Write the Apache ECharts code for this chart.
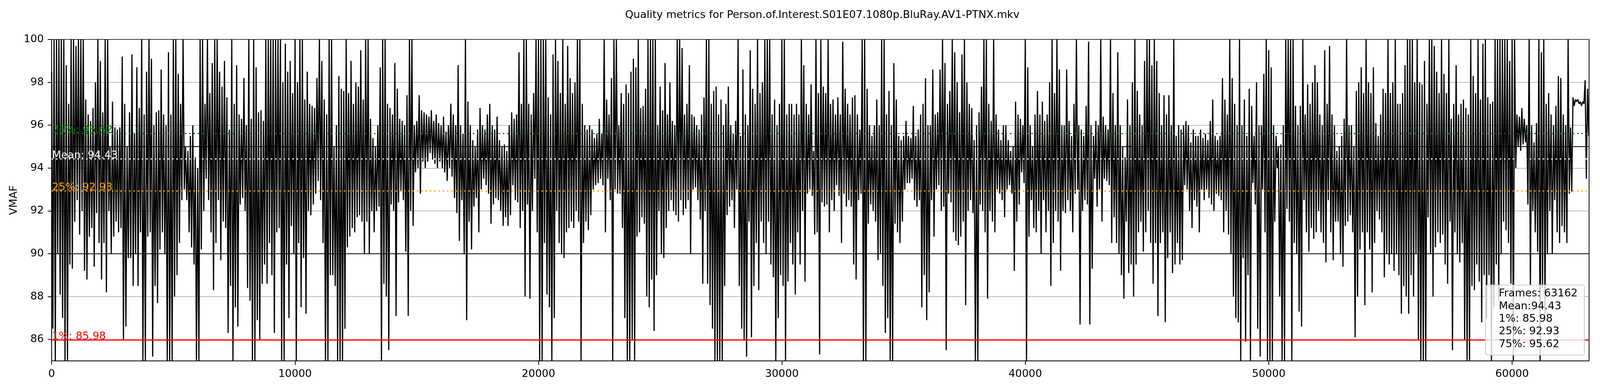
<!DOCTYPE html>
<html>
<head>
<meta charset="utf-8">
<script src="https://cdn.jsdelivr.net/npm/echarts@6/dist/echarts.min.js"></script>
<style>
html,body{margin:0;padding:0;background:#fff;overflow:hidden;}
#chart{width:100vw;height:100vh;}
</style>
</head>
<body>
<div id="chart"></div>
<script>
// ---- chart data ----
const chartTitle = 'Quality metrics for Person.of.Interest.S01E07.1080p.BluRay.AV1-PTNX.mkv';
const frameCount = 63162;
const frameStep = 100;            // each pair = local peak then local trough in a 100-frame window
const xTicks = [0, 10000, 20000, 30000, 40000, 50000, 60000];
const yTicks = [86, 88, 90, 92, 94, 96, 98, 100];
const refLines = [90, 95];
const statNames = ['1%', '25%', 'Mean', '75%'];
const statValues = [85.98, 92.93, 94.43, 95.62];

// peaks (hi) and troughs (lo), frames 0-9999
const hi0 = [98.5,100,100,100,100,100,98.8,97.0,100,100,
 99.7,100,100,100,97.2,96.5,96.2,96.8,98.0,100,
 99.0,96.6,100,100,95.0,97.1,95.9,95.8,95.9,99.2,
 97.0,95.0,96.6,99.3,95.6,98.7,96.8,100,96.5,98.5,
 100,99.1,96.0,96.6,96.7,98.6,96.5,96.0,99.4,96.5,
 100,100,98.4,97.0,100,95.0,94.8,95.5,96.0,94.5,
 94.0,100,100,97.0,100,97.5,98.9,100,100,98.5,
 97.8,99.0,97.3,95.8,100,97.0,98.8,96.5,96.3,98.2,
 96.0,100,96.3,100,98.7,96.6,96.7,96.2,100,100,
 100,100,100,100,100,98.0,99.8,98.5,99.0,97.5];
const lo0 = [86.5,85.0,90.0,88.1,87.0,85.0,85.0,89.5,89.3,91.5,
 92.5,90.9,92.0,89.2,88.8,90.8,91.2,89.4,91.9,90.5,
 88.8,90.5,88.2,92.0,90.0,90.8,91.5,91.0,91.2,86.0,
 86.6,89.8,89.8,88.5,90.0,88.5,91.0,85.0,85.0,90.8,
 91.0,85.2,88.5,87.7,90.2,91.0,90.0,85.0,85.0,85.0,
 88.0,89.0,90.5,92.5,93.0,92.5,91.0,90.3,89.5,85.0,
 85.0,90.2,92.0,93.5,92.5,91.0,88.3,90.5,92.5,89.7,
 91.5,91.2,86.3,88.5,85.0,87.5,86.6,92.3,92.6,92.0,
 88.4,87.8,85.0,85.0,86.9,86.0,88.6,89.5,88.6,90.5,
 89.0,86.3,91.0,91.2,85.0,85.0,89.5,87.0,91.3,90.0];
// frames 10000-19999
const hi1 = [100,98.0,100,100,97.2,98.5,97.0,96.9,96.8,98.2,
 100,99.0,97.2,96.5,100,100,95.0,96.0,98.3,97.7,
 97.6,100,97.5,99.0,97.0,98.0,97.8,99.5,97.2,100,
 100,96.3,95.4,95.0,96.0,98.7,100,100,97.0,96.8,
 96.5,98.9,97.7,96.3,96.2,96.0,97.4,100,100,96.0,
 96.2,97.4,96.7,96.6,96.5,96.4,96.7,96.2,96.5,96.1,
 96.0,96.4,95.7,96.0,97.0,96.5,96.0,98.8,96.0,95.6,
 100,97.1,96.0,95.3,95.0,95.8,96.8,96.0,95.8,96.5,
 97.0,96.0,95.8,96.4,95.3,95.0,95.1,94.8,96.0,96.6,
 96.3,96.5,99.4,97.0,100,100,97.0,96.5,97.5,100];
const lo1 = [85.0,90.5,87.5,89.8,87.2,92.0,91.8,92.3,92.8,93.4,
 92.5,90.5,85.0,85.0,89.0,89.0,88.5,85.0,85.0,85.0,
 86.5,90.3,90.8,91.2,91.0,91.7,91.8,91.5,90.0,91.5,
 90.0,92.0,91.0,92.0,92.2,85.0,88.6,88.0,85.5,92.3,
 92.0,87.1,92.4,92.9,92.5,90.1,87.1,92.0,91.3,93.8,
 94.0,92.8,94.3,94.0,94.3,94.7,94.4,94.2,94.0,94.3,
 94.0,93.8,93.4,94.0,93.6,92.6,91.9,90.6,92.5,90.0,
 86.9,91.5,90.2,92.2,92.6,91.0,93.0,93.5,93.2,92.8,
 91.4,92.3,92.6,92.5,92.0,91.3,91.7,91.3,91.8,93.2,
 92.5,92.4,91.2,92.0,88.0,92.3,87.9,92.0,93.5,91.0];
// frames 20000-29999
const hi2 = [100,100,100,100,97.3,96.5,99.3,100,99.0,97.5,
 100,97.0,99.7,98.2,97.5,98.0,100,100,97.0,96.0,
 95.8,96.0,95.8,95.4,95.6,96.3,95.6,100,97.2,96.5,
 98.2,100,100,96.0,97.5,97.0,97.9,97.5,98.5,99.1,
 98.7,100,96.8,96.9,97.7,100,100,100,100,96.0,
 97.8,96.7,98.9,96.5,98.0,96.2,96.0,100,100,99.6,
 96.5,97.0,98.8,96.5,96.4,96.0,95.8,96.5,97.3,100,
 100,97.0,97.6,97.8,96.5,97.2,96.0,97.0,97.8,96.0,
 95.6,96.2,100,95.5,98.6,96.5,96.0,99.5,97.7,97.0,
 100,97.5,98.0,100,100,100,96.5,97.2,96.0,97.0];
const lo2 = [85.0,85.0,90.5,88.1,87.5,85.0,87.0,92.0,90.5,90.0,
 89.8,91.0,91.2,91.5,91.2,92.0,91.5,85.0,90.5,91.5,
 91.1,91.8,93.0,93.2,93.3,93.5,93.2,91.0,93.5,92.5,
 85.0,93.0,92.8,92.8,91.2,87.0,85.0,85.0,86.0,85.0,
 90.8,91.0,91.7,91.4,88.0,87.5,88.8,86.4,89.0,92.0,
 90.0,89.8,91.2,92.0,92.5,92.0,91.8,91.5,92.5,91.8,
 92.1,92.5,90.0,93.0,93.1,92.5,91.6,88.6,92.0,88.6,
 87.6,86.5,85.0,85.0,85.0,85.0,88.5,91.8,92.2,92.5,
 91.2,93.0,88.5,86.5,86.0,85.2,91.5,86.1,88.5,90.5,
 88.3,91.5,90.5,90.0,91.5,89.5,88.9,85.0,87.0,89.0];
// frames 30000-39999
const hi3 = [100,100,96.5,97.0,97.0,96.5,97.0,96.5,100,98.8,
 97.0,96.5,97.9,94.8,100,97.5,100,97.8,97.5,100,
 97.0,97.2,96.5,97.3,96.5,99.9,97.7,97.0,96.5,97.3,
 97.4,96.5,95.8,100,100,97.7,96.0,95.5,96.0,97.2,
 96.0,100,100,96.5,97.6,96.0,98.9,97.2,95.5,95.3,
 95.5,96.2,95.5,95.4,96.9,95.5,95.8,96.5,97.0,98.2,
 96.0,96.0,98.6,96.5,96.6,98.6,100,98.9,97.0,97.6,
 100,99.4,98.0,96.6,99.3,100,98.0,97.0,96.8,95.3,
 96.0,96.6,97.8,100,100,97.0,96.2,100,96.5,95.8,
 95.3,96.0,96.0,95.3,94.8,95.0,97.1,96.5,96.3,96.0];
const lo3 = [88.5,85.0,88.7,90.5,89.5,88.1,91.0,89.5,92.0,88.7,
 92.8,93.0,92.7,90.9,91.0,85.3,92.4,92.2,92.3,91.0,
 92.5,92.0,93.2,92.7,90.5,92.8,92.2,92.5,92.2,89.5,
 88.8,92.5,92.8,85.0,85.0,91.4,92.3,92.0,91.5,89.7,
 90.0,88.5,86.3,87.0,85.0,85.0,91.4,91.0,90.5,91.5,
 93.0,93.3,93.3,93.5,92.5,92.2,92.5,87.5,89.0,86.9,
 88.2,92.5,90.8,93.0,93.2,92.0,92.2,85.5,92.8,92.4,
 91.0,90.6,90.4,90.8,91.5,87.6,92.0,92.5,91.9,85.0,
 85.0,92.3,92.0,91.0,87.9,92.0,91.5,91.0,93.0,92.8,
 92.5,91.7,93.0,93.2,92.8,89.2,91.5,92.3,93.8,93.3];
// frames 40000-49999
const hi4 = [100,98.7,96.0,95.0,96.5,97.6,96.5,97.1,96.2,96.5,
 98.0,100,97.5,100,98.6,96.0,96.0,98.6,96.2,95.5,
 97.0,100,96.0,95.8,95.5,96.9,99.9,96.0,95.5,96.2,
 96.0,100,96.4,96.0,95.8,100,97.5,96.0,99.4,96.0,
 95.0,94.5,97.2,96.0,98.0,100,97.6,96.5,96.0,99.0,
 100,100,98.8,100,99.0,97.5,96.0,97.4,96.5,97.4,
 96.0,100,95.5,96.0,95.8,96.0,96.2,96.0,95.2,95.8,
 95.5,95.5,95.8,95.4,95.6,95.3,96.2,97.2,95.5,95.3,
 95.5,98.2,97.2,96.5,100,98.2,97.0,96.0,100,96.0,
 97.2,95.5,97.7,96.9,95.5,98.0,96.0,96.0,98.4,100];
const lo4 = [85.0,90.8,92.5,91.2,91.0,92.0,90.0,92.5,91.0,92.0,
 88.5,90.5,92.0,91.5,89.2,92.0,91.9,92.5,92.0,91.0,
 92.8,93.0,86.7,92.0,92.5,92.3,86.7,89.3,93.5,92.2,
 93.0,91.5,93.5,93.4,93.2,90.5,91.7,90.5,90.0,89.0,
 87.9,91.5,89.1,89.5,88.0,89.5,91.0,91.5,90.1,91.0,
 92.0,90.5,88.6,90.5,87.1,90.5,91.0,86.8,89.8,91.0,
 89.1,89.5,90.5,89.5,89.7,93.2,93.0,92.0,91.2,92.5,
 92.2,91.0,93.0,92.5,93.0,92.6,92.3,92.0,92.8,92.7,
 92.5,91.0,92.0,90.9,90.0,88.0,87.0,86.8,85.0,89.8,
 85.9,89.0,85.0,93.3,92.3,86.5,85.2,93.0,91.0,85.0];
// frames 50000-59999
const hi5 = [99.5,98.7,96.0,95.5,95.0,95.1,96.0,100,100,100,
 100,96.9,96.0,96.9,100,96.5,97.9,97.0,98.0,98.8,
 98.0,96.5,96.0,99.5,97.0,99.7,96.5,96.0,94.8,95.0,
 95.5,96.3,100,96.0,96.0,95.0,97.6,98.0,98.7,97.5,
 100,98.0,97.5,98.7,96.1,95.5,96.5,97.7,97.5,100,
 97.5,98.0,100,97.0,97.0,97.5,98.8,100,100,100,
 98.0,100,98.0,97.9,99.0,97.0,100,100,99.7,98.5,
 97.5,100,98.4,97.5,100,96.3,97.0,98.8,96.5,97.0,
 97.2,96.8,96.5,100,98.3,97.5,100,97.2,99.8,100,
 97.3,97.0,97.1,100,100,100,100,100,100,99.0];
const lo5 = [85.0,85.0,91.5,94.0,88.0,85.0,85.0,92.1,91.5,85.0,
 90.5,90.0,87.3,86.6,92.5,91.0,90.1,91.2,90.7,91.0,
 92.0,91.0,90.5,89.6,92.5,91.0,89.7,91.5,91.5,90.0,
 89.4,91.3,91.5,91.8,91.0,86.1,88.0,90.2,91.0,87.6,
 91.0,90.2,88.2,90.5,92.0,91.6,91.0,88.9,90.0,89.5,
 90.0,89.2,90.0,89.0,87.2,88.5,88.0,87.2,89.0,88.0,
 90.0,86.0,85.0,85.0,85.0,91.7,90.0,88.0,90.3,91.0,
 90.5,90.9,89.5,88.6,91.5,85.5,91.0,90.0,89.6,90.5,
 86.0,85.0,85.0,88.5,88.3,89.5,88.7,86.8,89.0,87.0,
 89.0,85.0,87.5,89.5,87.8,90.0,91.5,91.1,90.5,88.6];
// frames 60000-63162
const hi6 = [100,100,96.5,96.4,96.8,96.3,96.0,100,96.0,95.2,
 96.1,100,99.4,100,97.0,97.5,96.5,96.0,96.9,98.3,
 98.2,96.5,96.0,100,95.9,97.3,97.2,97.2,97.1,97.1,
 98.1,97.7];
const lo6 = [85.0,94.0,95.0,94.8,95.1,95.2,92.3,88.5,92.0,91.0,
 90.1,85.0,88.4,87.0,90.0,92.0,90.0,92.5,91.0,90.5,
 91.3,91.0,90.5,92.8,92.9,96.9,97.1,97.0,96.9,97.0,
 93.5,95.5];

// ---- build series data from the arrays ----
const peaks = [].concat(hi0, hi1, hi2, hi3, hi4, hi5, hi6);
const troughs = [].concat(lo0, lo1, lo2, lo3, lo4, lo5, lo6);
const vmafPoints = [];
peaks.forEach((p, i) => {
  vmafPoints.push([i * frameStep, p]);
  vmafPoints.push([i * frameStep + frameStep / 2, troughs[i]]);
});

// ---- layout (reference is 4400 x 1000; scale to the actual viewport) ----
const dom = document.getElementById('chart');
const W = dom.clientWidth || window.innerWidth;
const H = dom.clientHeight || window.innerHeight;
const sx = W / 4400, sy = H / 1000;

const FONT = 'DejaVu Sans';
const statColors = {'1%': '#ff0000', '25%': '#ffa500', 'Mean': '#ffffff', '75%': '#008000'};
const statMarks = statNames.map((n, k) => ({
  yAxis: statValues[k],
  lineStyle: {
    color: statColors[n],
    width: 3,
    type: n === '1%' ? 'solid' : [4, 7],
    cap: 'butt'
  },
  label: {
    show: true,
    position: 'insideStartTop',
    distance: [1, -5],
    formatter: n + ': ' + statValues[k].toFixed(2),
    color: statColors[n],
    fontSize: 27,
    fontFamily: FONT
  }
}));

const legendLines = [
  'Frames: ' + frameCount,
  'Mean:' + statValues[2].toFixed(2),
  '1%: ' + statValues[0].toFixed(2),
  '25%: ' + statValues[1].toFixed(2),
  '75%: ' + statValues[3].toFixed(2)
];
const legW = 253, legH = 179;
const legRight = 4357 * sx, legTop = 729 * sy;

const chart = echarts.init(dom, null, {renderer: 'canvas'});
chart.setOption({
  animation: false,
  backgroundColor: '#ffffff',
  title: {
    text: chartTitle,
    left: 2256 * sx,
    top: 20 * sy,
    textAlign: 'center',
    textStyle: {fontSize: 27, fontWeight: 'normal', color: '#000', fontFamily: FONT}
  },
  grid: {
    left: 142 * sx, right: 30 * sx, top: 101 * sy, bottom: 77 * sy,
    show: true, borderColor: '#000', borderWidth: 2, backgroundColor: 'transparent'
  },
  xAxis: {
    type: 'value', min: 0, max: frameCount, interval: 10000,
    axisLine: {show: true, lineStyle: {color: '#000', width: 2}},
    axisTick: {show: true, length: 10, lineStyle: {color: '#000', width: 2}, customValues: xTicks},
    axisLabel: {customValues: xTicks, formatter: v => String(v), fontSize: 27, color: '#000', margin: 20, fontFamily: FONT},
    splitLine: {show: false}
  },
  yAxis: {
    type: 'value', min: 85, max: 100, interval: 1,
    name: 'VMAF', nameLocation: 'middle', nameGap: 88 * sx,
    nameTextStyle: {fontSize: 27, color: '#000', fontFamily: FONT},
    axisLine: {show: true, lineStyle: {color: '#000', width: 2}},
    axisTick: {show: true, length: 10, lineStyle: {color: '#000', width: 2}, customValues: yTicks},
    axisLabel: {customValues: yTicks, formatter: v => String(v), fontSize: 27, color: '#000', margin: 20, fontFamily: FONT},
    splitLine: {show: true, lineStyle: {color: '#808080', width: 1}}
  },
  series: [
    {
      type: 'line',
      data: vmafPoints,
      showSymbol: false,
      symbol: 'none',
      z: 2,
      lineStyle: {color: '#000', width: 3},
      markLine: {
        silent: true, symbol: 'none', animation: false,
        label: {show: false},
        lineStyle: {color: '#000', width: 2, type: 'solid'},
        data: refLines.map(v => ({yAxis: v}))
      }
    },
    {
      type: 'line',
      data: [],
      z: 5,
      markLine: {
        silent: true, symbol: 'none', animation: false,
        data: statMarks
      }
    }
  ],
  graphic: [
    {
      type: 'rect', z: 100,
      shape: {x: legRight - legW, y: legTop, width: legW, height: legH, r: 5},
      style: {fill: 'rgba(255,255,255,0.8)', stroke: '#cccccc', lineWidth: 2}
    },
    {
      type: 'text', z: 101,
      style: {
        x: legRight - legW + 34, y: legTop + 6, text: legendLines.join('\n'),
        fontSize: 27, fontFamily: FONT, lineHeight: 32.4,
        fill: '#000', verticalAlign: 'top', align: 'left'
      }
    }
  ]
});
</script>
</body>
</html>
